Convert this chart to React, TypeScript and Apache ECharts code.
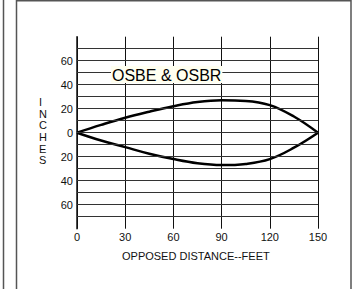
import React, { useEffect, useRef } from "react";
import * as echarts from "echarts";

const xTicks = [0, 30, 60, 90, 120, 150];
const yLabelValues = [60, 40, 20, 0, -20, -40, -60];
const gridValues = [-70, -60, -50, -40, -30, -20, -10, 0, 10, 20, 30, 40, 50, 60, 70];
const upperX = [0, 15, 30, 45, 60, 75, 90, 105, 120, 135, 150];
const upperY = [0, 6.5, 12.5, 17.5, 22, 25.5, 27, 26.5, 23, 13.5, 0];
const lowerX = [0, 15, 30, 45, 60, 75, 90, 105, 120, 135, 150];
const lowerY = [0, -6.5, -12, -17.5, -22, -25.5, -27, -26, -22, -12.5, 0];
const title = "OSBE & OSBR";
const xName = "OPPOSED DISTANCE--FEET";
const yName = "INCHES";

const FONT = "Liberation Sans, Arial, sans-serif";

export default function App() {
  const ref = useRef<HTMLDivElement>(null);
  useEffect(() => {
    if (!ref.current) return;
    const chart = echarts.init(ref.current, undefined, { renderer: "svg" });
    chart.setOption({
      animation: false,
      backgroundColor: "#ffffff",
      grid: { left: 77, right: 34, top: 36.7, bottom: 60.3, containLabel: false },
      xAxis: {
        type: "value",
        min: xTicks[0],
        max: xTicks[xTicks.length - 1],
        interval: 30,
        axisLine: { show: false },
        axisTick: { show: false },
        axisLabel: { color: "#111", fontSize: 11, fontFamily: FONT, margin: 3 },
        splitLine: { show: true, lineStyle: { color: "#111", width: 1 } },
      },
      yAxis: {
        type: "value",
        min: -80,
        max: 80,
        interval: 10,
        axisLine: { show: true, onZero: false, lineStyle: { color: "#111", width: 1.5 } },
        axisTick: { show: false },
        splitLine: { show: false },
        axisLabel: {
          color: "#111",
          fontSize: 11,
          fontFamily: FONT,
          margin: 4,
          formatter: (v: number) => (yLabelValues.includes(v) ? String(Math.abs(v)) : ""),
        },
      },
      series: [
        {
          type: "line",
          data: upperX.map((x, i) => [x, upperY[i]]),
          smooth: 0.4,
          symbol: "none",
          lineStyle: { color: "#000", width: 2.5 },
          markLine: {
            silent: true,
            symbol: "none",
            label: { show: false },
            lineStyle: { color: "#333", width: 1, type: "solid" },
            data: gridValues.map((v) => ({ yAxis: v })),
          },
          z: 3,
        },
        {
          type: "line",
          data: lowerX.map((x, i) => [x, lowerY[i]]),
          smooth: 0.4,
          symbol: "none",
          lineStyle: { color: "#000", width: 2.5 },
          z: 3,
        },
      ],
      graphic: [
        {
          type: "line",
          shape: { x1: 3.5, y1: 0, x2: 3.5, y2: 289 },
          style: { stroke: "#555", lineWidth: 1.5 },
        },
        {
          type: "polyline",
          shape: { points: [[16.5, 289], [16.5, 0.8], [351, 0.8], [351, 289]] },
          style: { stroke: "#555", lineWidth: 1.5, fill: "none" },
        },
        {
          type: "text",
          left: 111,
          top: 66,
          z: 10,
          style: {
            text: title,
            fontSize: 16,
            fontFamily: FONT,
            fill: "#000",
            backgroundColor: "#fffff0",
            padding: [1, 1, 0, 1],
          },
        },
        {
          type: "text",
          left: 39,
          top: 96,
          style: {
            text: yName.split("").join("\n"),
            fontSize: 11,
            lineHeight: 11.7,
            fontFamily: FONT,
            fill: "#111",
            align: "center",
          },
        },
        {
          type: "text",
          left: 122,
          top: 250,
          style: {
            text: xName,
            fontSize: 11,
            fontFamily: FONT,
            fill: "#111",
          },
        },
      ],
    });
    return () => chart.dispose();
  }, []);
  return (
    <div
      ref={ref}
      style={{ position: "fixed", left: 0, top: 0, width: 352, height: 289 }}
    />
  );
}
